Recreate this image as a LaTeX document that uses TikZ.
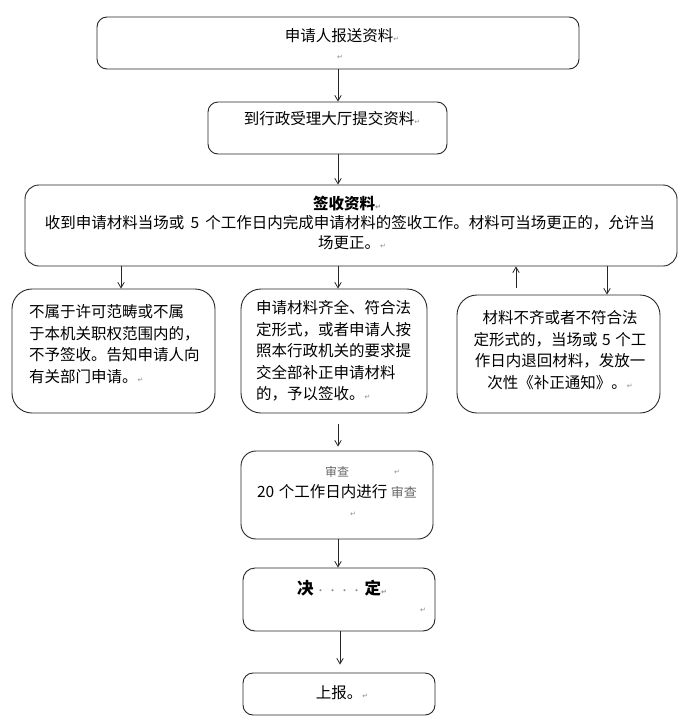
\documentclass[tikz,border=0pt]{standalone}
\usepackage{fontspec}
\setmainfont{Noto Sans CJK SC}
\newfontfamily\symf{DejaVu Sans}
\usetikzlibrary{arrows.meta}
\newcommand\parmark{{\symf\fontsize{7}{7}\selectfont\textcolor{black!45}{↵}}}
\begin{document}
\begin{tikzpicture}[x=1pt,y=-1pt,
  box/.style={draw=black!85, line width=0.9pt, inner sep=0pt},
  txt/.style={inner sep=0pt, font=\fontsize{15.5}{21.5}\selectfont, align=center},
  arr/.style={-{Straight Barb[length=5.5pt,width=6.5pt]}, line width=0.8pt, draw=black!85}]
\useasboundingbox[fill=white] (0,0) rectangle (693,726);

% boxes
\node[box, rounded corners=10pt, minimum width=482pt, minimum height=52pt] (b1) at (338,43) {};
\node[box, rounded corners=10pt, minimum width=239pt, minimum height=52pt] (b2) at (327.5,128) {};
\node[box, rounded corners=14pt, minimum width=652pt, minimum height=81pt] (b3) at (351,225.5) {};
\node[box, rounded corners=20pt, minimum width=203pt, minimum height=124pt] (b4) at (113.5,351) {};
\node[box, rounded corners=20pt, minimum width=186pt, minimum height=124pt] (b5) at (334,351) {};
\node[box, rounded corners=20pt, minimum width=203pt, minimum height=118pt] (b6) at (558.5,354) {};
\node[box, rounded corners=15pt, minimum width=192pt, minimum height=88pt] (b7) at (337,495) {};
\node[box, rounded corners=12pt, minimum width=192pt, minimum height=63pt] (b8) at (339,599.5) {};
\node[box, rounded corners=10pt, minimum width=192pt, minimum height=42pt] (b9) at (339,694) {};

% texts
\node[txt] (t1) at (342,36) {申请人报送资料\parmark};
\node[txt] (t1b) at (340,57) {\parmark};
\node[txt] (t2) at (332,119) {到行政受理大厅提交资料\parmark};
\node[txt] (t3a) at (347,204) {\bfseries 签收资料\parmark};
\node[txt] (t3b) at (350,223) {收到申请材料当场或\hspace{0.4em}5\hspace{0.4em}个工作日内完成申请材料的签收工作。材料可当场更正的，允许当};
\node[txt] (t3c) at (352,243) {场更正。\parmark};
\node[txt, align=left, anchor=west] (t4) at (29,344) {不属于许可范畴或不属\\于本机关职权范围内的，\\不予签收。告知申请人向\\有关部门申请。\parmark};
\node[txt, align=left, anchor=west] (t5) at (256,351) {申请材料齐全、符合法\\定形式，或者申请人按\\照本行政机关的要求提\\交全部补正申请材料\\的，予以签收。\parmark};
\node[txt] (t6) at (560,350) {材料不齐或者不符合法\\定形式的，当场或\hspace{0.3em}5\hspace{0.3em}个工\\作日内退回材料，发放一\\次性《补正通知》。\parmark};
\node[txt, font=\fontsize{12}{14}\selectfont, text=black!60] (t7a) at (337,472) {审查};
\node[txt] (t7am) at (397,472) {\parmark};
\node[txt] (t7b) at (337,492) {20\hspace{0.3em}个工作日内进行 {\fontsize{13}{14}\selectfont\color{black!60}审查}};
\node[txt] (t7c) at (353,514) {\parmark};
\node[txt, font=\fontsize{16.5}{20}\selectfont\bfseries] (t8a) at (342,588) {决\hspace{2pt}{\mdseries\fontsize{10}{10}\selectfont\color{black!45}·\hspace{2pt}·\hspace{2pt}·\hspace{2pt}·}\hspace{3pt}定\parmark};
\node[txt] (t8b) at (423,610) {\parmark};
\node[txt] (t9) at (342,693) {上报。\parmark};

% connectors
\draw[arr] (b1.south -| 338,0) -- (b2.north -| 338,0);
\draw[arr] (b2.south -| 338,0) -- (b3.north -| 338,0);
\draw[arr] (b3.south -| 121,0) -- (b4.north -| 121,0);
\draw[arr] (b3.south -| 338,0) -- (b5.north -| 338,0);
\draw[arr, shorten <=7pt] (b6.north -| 516,0) -- (b3.south -| 516,0);
\draw[arr] (b3.south -| 607,0) -- (b6.north -| 607,0);
\draw[arr, shorten <=11pt, shorten >=4pt] (b5.south -| 338,0) -- (b7.north -| 338,0);
\draw[arr] (b7.south -| 338,0) -- (b8.north -| 338,0);
\draw[arr, shorten >=8pt] (b8.south -| 340,0) -- (b9.north -| 340,0);
\end{tikzpicture}
\end{document}
